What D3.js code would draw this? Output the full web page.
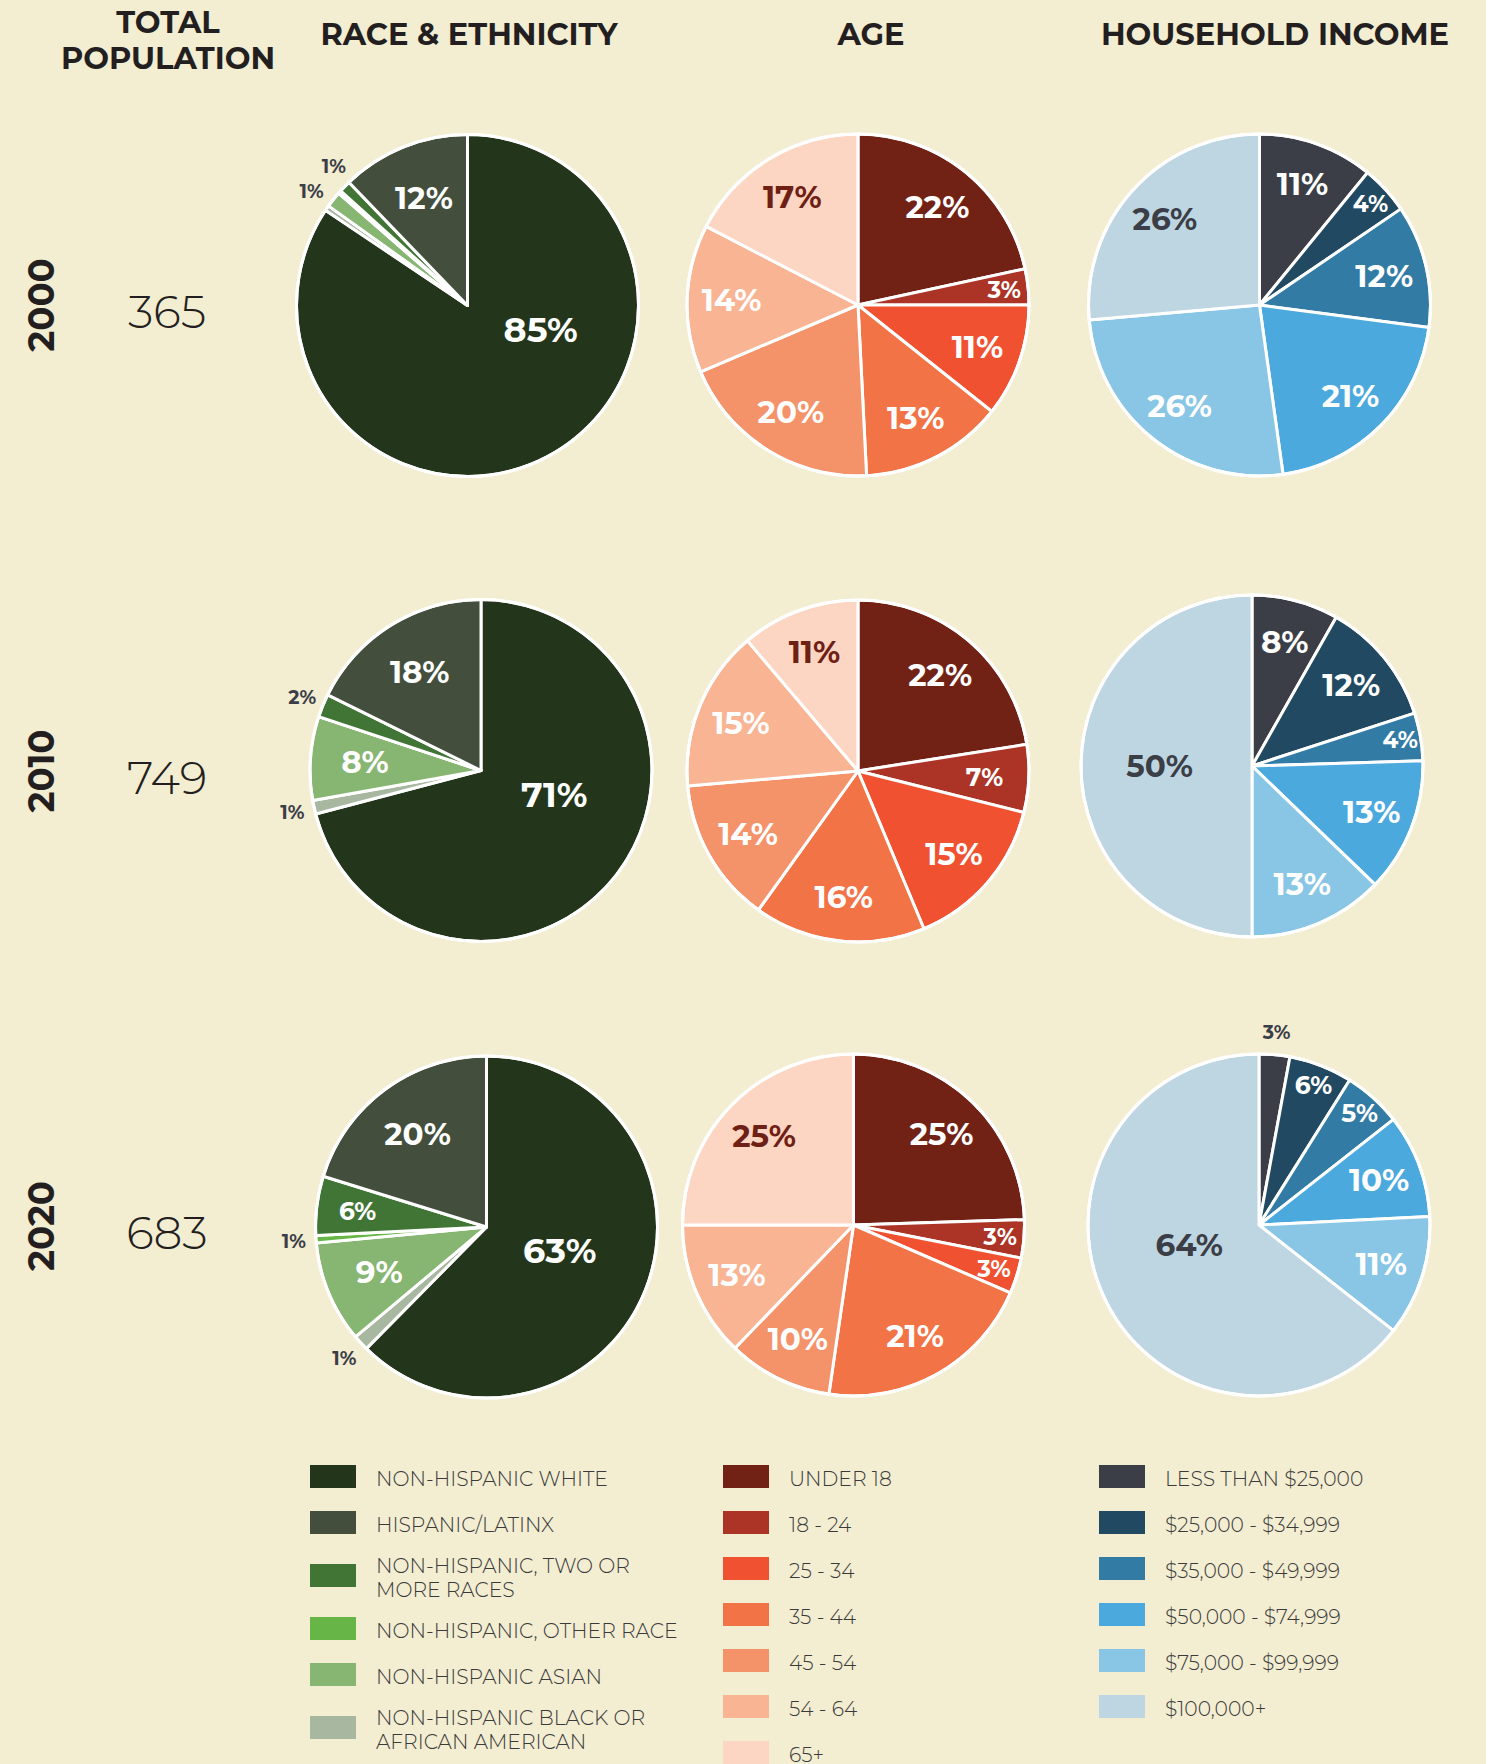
<!DOCTYPE html>
<html><head><meta charset="utf-8">
<script src="https://cdn.jsdelivr.net/npm/d3@7"></script>
<style>
html,body{margin:0;padding:0;background:#f3edd2;}
svg{display:block;}
</style></head><body>
<svg id="chart" width="1486" height="1764"></svg>
<script>
// ---------------- DATA ----------------
const years = ["2000", "2010", "2020"];
const totalPopulation = [365, 749, 683];

// Race & ethnicity (legend order)
const raceCategories = ["NON-HISPANIC WHITE", "HISPANIC/LATINX", "NON-HISPANIC, TWO OR\nMORE RACES",
  "NON-HISPANIC, OTHER RACE", "NON-HISPANIC ASIAN", "NON-HISPANIC BLACK OR\nAFRICAN AMERICAN"];
const raceColors = ["#23361b", "#434e3d", "#417535", "#67b546", "#87b572", "#a8b8a0"];
const racePieOrder = [0, 5, 4, 3, 2, 1]; // clockwise from 12 o'clock
const race2000 = [84.4, 12.2, 1.1, 0.3, 1.5, 0.5];
const race2010 = [70.9, 17.7, 2.2, 0.0, 7.9, 1.3];
const race2020 = [62.4, 20.2, 5.6, 0.7, 9.6, 1.5];
const raceLabels2000 = [85, 12, 1, null, 1, null];
const raceLabels2010 = [71, 18, 2, null, 8, 1];
const raceLabels2020 = [63, 20, 6, 1, 9, 1];

// Age
const ageCategories = ["UNDER 18", "18 - 24", "25 - 34", "35 - 44", "45 - 54", "54 - 64", "65+"];
const ageColors = ["#722215", "#ab3426", "#ef5131", "#f27346", "#f4926a", "#f9b493", "#fcd6c3"];
const agePieOrder = [0, 1, 2, 3, 4, 5, 6];
const age2000 = [21.6, 3.4, 10.7, 13.5, 19.4, 14.0, 17.4];
const age2010 = [22.5, 6.4, 14.8, 16.2, 13.7, 15.2, 11.2];
const age2020 = [24.5, 3.6, 3.4, 20.8, 9.9, 12.8, 25.0];
const ageLabels2000 = [22, 3, 11, 13, 20, 14, 17];
const ageLabels2010 = [22, 7, 15, 16, 14, 15, 11];
const ageLabels2020 = [25, 3, 3, 21, 10, 13, 25];

// Household income
const incomeCategories = ["LESS THAN $25,000", "$25,000 - $34,999", "$35,000 - $49,999",
  "$50,000 - $74,999", "$75,000 - $99,999", "$100,000+"];
const incomeColors = ["#3b3e46", "#214a62", "#327ba4", "#4ba9de", "#89c6e6", "#bed5e2"];
const incomePieOrder = [0, 1, 2, 3, 4, 5];
const income2000 = [10.9, 4.6, 11.6, 20.7, 25.8, 26.4];
const income2010 = [8.2, 11.8, 4.5, 12.7, 12.8, 50.0];
const income2020 = [2.9, 6.0, 5.5, 9.8, 11.4, 64.4];
const incomeLabels2000 = [11, 4, 12, 21, 26, 26];
const incomeLabels2010 = [8, 12, 4, 13, 13, 50];
const incomeLabels2020 = [3, 6, 5, 10, 11, 64];

const headers = ["RACE & ETHNICITY", "AGE", "HOUSEHOLD INCOME"];

// ---------------- LAYOUT / STYLE ----------------
const BOLD = "Montserrat, Inter, 'Open Sans', sans-serif";
const TEXT_DARK = "#231f20";
const OUT_LABEL = "#3b3e46";
const R = 171;
const DEG = Math.PI / 180;

const groups = [
  { key: "race", cats: raceCategories, colors: raceColors, order: racePieOrder,
    series: [race2000, race2010, race2020], labels: [raceLabels2000, raceLabels2010, raceLabels2020],
    outsideBelow: 3, darkLabel: -1, labelR: 0.68, smallR: 0.76, bigSize: 35,
    bigR: v => 0.45,
    centers: [[467.5, 305.5], [481, 770.5], [486.5, 1227]] },
  { key: "age", cats: ageCategories, colors: ageColors, order: agePieOrder,
    series: [age2000, age2010, age2020], labels: [ageLabels2000, ageLabels2010, ageLabels2020],
    outsideBelow: 0, darkLabel: 6, darkColor: "#6e2014", labelR: 0.74, smallR: 0.86, bigSize: 31,
    bigR: v => 0.5,
    centers: [[858, 305], [858, 771], [853.5, 1225]] },
  { key: "income", cats: incomeCategories, colors: incomeColors, order: incomePieOrder,
    series: [income2000, income2010, income2020], labels: [incomeLabels2000, incomeLabels2010, incomeLabels2020],
    outsideBelow: 3.5, darkLabel: 5, darkColor: "#3b3e46", labelR: 0.75, smallR: 0.88, bigSize: 31,
    bigR: v => 0.54 - (v - 50) * 0.008,
    centers: [[1259.5, 305], [1252, 766], [1259, 1225]] }
];

const svg = d3.select("#chart");
svg.append("rect").attr("width", 1486).attr("height", 1764).attr("fill", "#f3edd2");

// Headers
const hdr = svg.append("g").attr("font-family", BOLD).attr("font-weight", 700)
  .attr("font-size", 30.5).attr("fill", TEXT_DARK).attr("text-anchor", "middle");
hdr.append("text").attr("x", 168).attr("y", 33).text("TOTAL");
hdr.append("text").attr("x", 168).attr("y", 69).text("POPULATION");
const headerX = [469, 871, 1275];
headers.forEach((h, i) => hdr.append("text").attr("x", headerX[i]).attr("y", 45).text(h));

// Row labels (year + population)
const rowY = [305, 771, 1226];
years.forEach((y, i) => {
  svg.append("text")
    .attr("transform", `translate(41,${rowY[i]}) rotate(-90)`)
    .attr("text-anchor", "middle").attr("dy", "0.36em")
    .attr("font-family", BOLD).attr("font-weight", 700).attr("font-size", 35.5)
    .attr("fill", TEXT_DARK).text(y);
  svg.append("text")
    .attr("x", 167).attr("y", rowY[i] + 23)
    .attr("text-anchor", "middle")
    .attr("font-family", BOLD).attr("font-weight", 300).attr("font-size", 45.5)
    .attr("fill", TEXT_DARK).text(d3.format("d")(totalPopulation[i]));
});

// Pies
const pie = d3.pie().sort(null).value(d => d.value);
const arc = d3.arc().innerRadius(0).outerRadius(R);

groups.forEach(g => {
  g.series.forEach((vals, yi) => {
    const data = g.order.map(ci => ({ ci, value: vals[ci], label: g.labels[yi][ci] }));
    const arcs = pie(data);
    const [cx, cy] = g.centers[yi];
    const pg = svg.append("g").attr("transform", `translate(${cx},${cy})`);
    pg.selectAll("path").data(arcs).join("path")
      .attr("d", arc)
      .attr("fill", d => g.colors[d.data.ci])
      .attr("stroke", "#ffffff").attr("stroke-width", 3).attr("stroke-linejoin", "round");
    pg.append("circle").attr("r", R).attr("fill", "none").attr("stroke", "#ffffff").attr("stroke-width", 3);

    const labels = [];
    arcs.forEach(a => {
      const lab = a.data.label;
      if (lab == null) return;
      let mid = (a.startAngle + a.endAngle) / 2;
      const v = a.data.value;
      let rr, size, color, outside = false;
      if (v < g.outsideBelow) {
        rr = R * 1.13; size = 19; color = OUT_LABEL; outside = true;
      } else {
        if (v > 45) {
          rr = R * g.bigR(v); size = g.bigSize;
          if (g.key === "race") mid = Math.min(mid, 108 * DEG);
          if (g.key === "income") mid = Math.max(mid, 254 * DEG);
        } else if (v <= 6) {
          rr = R * g.smallR; size = v < 5 ? 23 : 25;
        } else {
          rr = R * g.labelR; size = v < 7 ? 25 : 31;
        }
        color = (a.data.ci === g.darkLabel) ? g.darkColor : "#ffffff";
      }
      labels.push({ text: lab + "%", mid, rr, size, color, outside });
    });

    // spread outside labels that are too close in angle
    const outs = labels.filter(l => l.outside).sort((a, b) => a.mid - b.mid);
    const minSep = 10 * DEG;
    for (let i = 1; i < outs.length; i++) {
      const gap = outs[i].mid - outs[i - 1].mid;
      if (gap < minSep) {
        const push = (minSep - gap) / 2;
        outs[i].mid += push; outs[i - 1].mid -= push;
      }
    }

    pg.selectAll("text.lbl").data(labels).join("text").attr("class", "lbl")
      .attr("x", d => Math.sin(d.mid) * d.rr)
      .attr("y", d => -Math.cos(d.mid) * d.rr)
      .attr("dy", "0.36em")
      .attr("text-anchor", "middle")
      .attr("font-family", BOLD).attr("font-weight", 700)
      .attr("font-size", d => d.size).attr("fill", d => d.color)
      .text(d => d.text);
  });
});

// Legends
const legendX = [310, 723, 1099];
groups.forEach((g, gi) => {
  const lg = svg.append("g").attr("transform", `translate(${legendX[gi]},0)`);
  let yc = 1476.5, prevH = null;
  g.cats.forEach((c, ci) => {
    const lines = c.split("\n");
    const h = lines.length > 1 ? 60 : 46;
    if (prevH !== null) yc += prevH / 2 + h / 2;
    prevH = h;
    lg.append("rect").attr("x", 0).attr("y", yc - 11.5).attr("width", 46).attr("height", 23)
      .attr("fill", g.colors[ci]);
    const t = lg.append("text").attr("x", 66)
      .attr("font-family", BOLD).attr("font-weight", 300).attr("font-size", 20.3)
      .attr("fill", "#3a3a3a");
    lines.forEach((ln, li) => {
      t.append("tspan").attr("x", 66)
        .attr("y", yc + 9.5 + (li - (lines.length - 1) / 2) * 24)
        .text(ln);
    });
  });
});
</script>
</body></html>
